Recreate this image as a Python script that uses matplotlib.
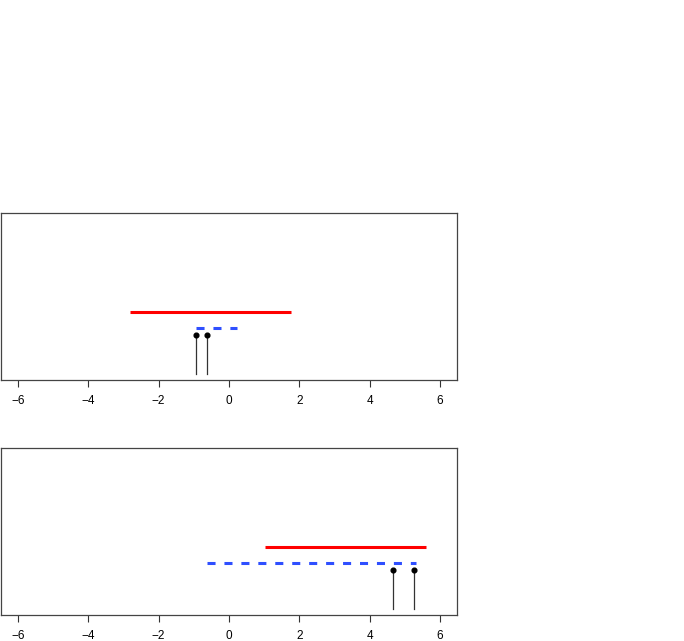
import matplotlib
matplotlib.use("Agg")
import matplotlib.pyplot as plt

plt.rcParams['font.family'] = ['Liberation Sans', 'DejaVu Sans']
plt.rcParams['lines.scale_dashes'] = False

# panel data: red interval, blue dashed interval, two stem points
red_top = [-2.80, 1.77]
blue_top = [-0.95, 0.23]
pts_top = [-0.925, -0.62]

red_bot = [1.02, 5.60]
blue_bot = [-0.63, 5.31]
pts_bot = [4.66, 5.27]

xticks = [-6, -4, -2, 0, 2, 4, 6]

fig = plt.figure(figsize=(6.84, 6.41), dpi=100, facecolor='white')

def panel(rect, red, blue, pts):
    ax = fig.add_axes(rect)
    ax.plot(red, [0.4, 0.4], color='#ff0000', lw=2.2, solid_capstyle='butt')
    ax.plot(blue, [0.3, 0.3], color='#2f4fff', lw=2.2, linestyle=(0, (5.8, 6.4)),
            dash_capstyle='butt')
    for p in pts:
        ax.plot([p, p], [0, 0.25], color='#333333', lw=0.9)
    ax.plot(pts, [0.25] * len(pts), 'o', color='black', ms=3.4)
    ax.set_xlim(-6.48, 6.48)
    ax.set_ylim(-0.04, 1.04)
    ax.set_yticks([])
    ax.set_xticks(xticks)
    ax.set_xticklabels([str(t).replace('-', '\u2212') for t in xticks])
    ax.tick_params(axis='x', labelsize=8.5, length=5, width=0.8, color='#333333', pad=5.5)
    for s in ax.spines.values():
        s.set_color('#444444')
        s.set_linewidth(0.9)
    return ax

panel([1/684, (641-380.3)/641, 456/684, 167.6/641], red_top, blue_top, pts_top)
panel([1/684, (641-615.3)/641, 456/684, 167.6/641], red_bot, blue_bot, pts_bot)

plt.savefig("out.png", dpi=100)
